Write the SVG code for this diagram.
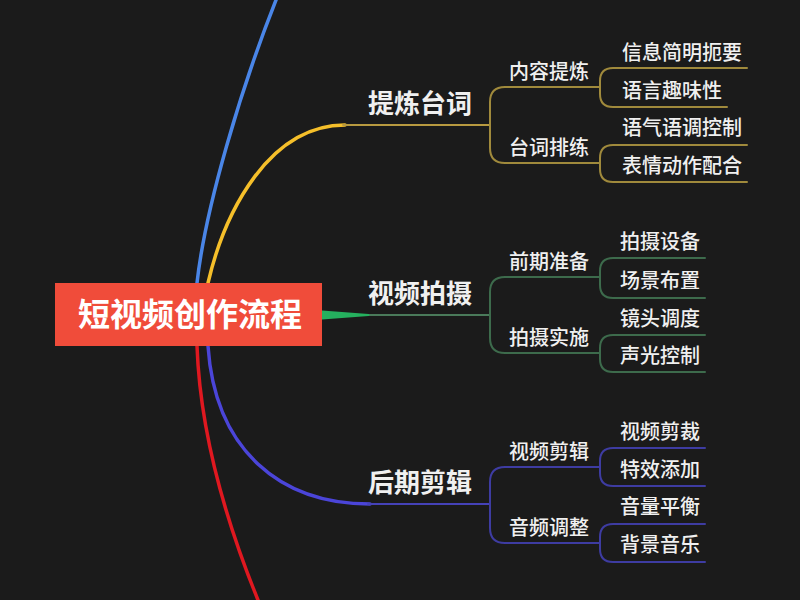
<svg xmlns="http://www.w3.org/2000/svg" width="800" height="600" viewBox="0 0 800 600">
<style>
  .t { font-family: "Noto Sans CJK SC", "Noto Sans", "Liberation Sans", sans-serif; fill: #f0f0f0; }
  .leaf { font-size: 20px; font-weight: 500; }
  .sub { font-size: 20px; font-weight: 500; }
  .main { font-size: 26px; font-weight: 700; }
  .root { font-size: 32px; font-weight: 700; fill: #ffffff; }
  .c { fill: none; stroke-linecap: round; }
  .y1 { stroke: #f5bf2a; stroke-width: 3.5; }
  .y2 { stroke: #b89a40; stroke-width: 2; }
  .y3 { stroke: #a08a3c; stroke-width: 2; }
  .g2 { stroke: #4a7a5a; stroke-width: 2; }
  .g3 { stroke: #3d6b4c; stroke-width: 2; }
  .i1 { stroke: #4b45d9; stroke-width: 3.5; }
  .i2 { stroke: #4542b8; stroke-width: 2; }
  .i3 { stroke: #3e3ca2; stroke-width: 2; }
</style>
<rect x="0" y="0" width="800" height="600" fill="#1b1b1b"/>
<g id="connectors">
  <!-- outer decorative branches -->
  <path class="c" d="M197,283 C205,210 240,90 278,-5" stroke="#4a86e8" stroke-width="3.5"/>
  <path class="c" d="M197,346 C200,430 225,520 260,605" stroke="#e01820" stroke-width="3.5"/>
  <!-- yellow main -->
  <path class="c y1" d="M208,283 C225,210 270,125 345,125"/>
  <path class="c y2" d="M343,125 H490"/>
  <!-- green main -->
  <path d="M322,310.5 L322,319.5 L372,315.8 L372,314.2 Z" fill="#25b05e"/>
  <path class="c g2" d="M370,315 H490"/>
  <!-- indigo main -->
  <path class="c i1" d="M208,346 C215,450 280,504 370,504"/>
  <path class="c i2" d="M368,504 H490"/>

  <!-- yellow brackets -->
  <path class="c y3" d="M600,87 H505 Q490,87 490,102 V148 Q490,163 505,163 H600"/>
  <path class="c y3" d="M747,68 H613 Q600,68 600,81 V94 Q600,107 613,107 H727"/>
  <path class="c y3" d="M747,145 H613 Q600,145 600,158 V169 Q600,182 613,182 H747"/>
  <!-- green brackets -->
  <path class="c g3" d="M600,277 H505 Q490,277 490,292 V338 Q490,353 505,353 H600"/>
  <path class="c g3" d="M705,258 H613 Q600,258 600,271 V285 Q600,298 613,298 H705"/>
  <path class="c g3" d="M705,335 H613 Q600,335 600,348 V359 Q600,372 613,372 H705"/>
  <!-- indigo brackets -->
  <path class="c i3" d="M600,467 H505 Q490,467 490,482 V528 Q490,543 505,543 H600"/>
  <path class="c i3" d="M705,448 H613 Q600,448 600,461 V473 Q600,486 613,486 H705"/>
  <path class="c i3" d="M705,524 H613 Q600,524 600,537 V549 Q600,562 613,562 H705"/>
</g>

<g id="root">
  <rect x="55" y="283" width="267" height="63" fill="#f04c3a"/>
  <text class="t root" x="190" y="326" text-anchor="middle">短视频创作流程</text>
</g>

<g id="n-tilian"><text class="t main" x="368" y="113">提炼台词</text></g>
<g id="n-paishe"><text class="t main" x="368" y="303">视频拍摄</text></g>
<g id="n-houqi"><text class="t main" x="368" y="492">后期剪辑</text></g>

<g id="n-neirong"><text class="t sub" x="509" y="79">内容提炼</text></g>
<g id="n-taici"><text class="t sub" x="509" y="155">台词排练</text></g>
<g id="n-qianqi"><text class="t sub" x="509" y="269">前期准备</text></g>
<g id="n-shishi"><text class="t sub" x="509" y="345">拍摄实施</text></g>
<g id="n-jianji"><text class="t sub" x="509" y="459">视频剪辑</text></g>
<g id="n-yinpin"><text class="t sub" x="509" y="535">音频调整</text></g>

<g id="l1"><text class="t leaf" x="622" y="60">信息简明扼要</text></g>
<g id="l2"><text class="t leaf" x="622" y="98">语言趣味性</text></g>
<g id="l3"><text class="t leaf" x="622" y="135">语气语调控制</text></g>
<g id="l4"><text class="t leaf" x="622" y="173">表情动作配合</text></g>
<g id="l5"><text class="t leaf" x="620" y="249">拍摄设备</text></g>
<g id="l6"><text class="t leaf" x="620" y="288">场景布置</text></g>
<g id="l7"><text class="t leaf" x="620" y="326">镜头调度</text></g>
<g id="l8"><text class="t leaf" x="620" y="363">声光控制</text></g>
<g id="l9"><text class="t leaf" x="620" y="439">视频剪裁</text></g>
<g id="l10"><text class="t leaf" x="620" y="477">特效添加</text></g>
<g id="l11"><text class="t leaf" x="620" y="514">音量平衡</text></g>
<g id="l12"><text class="t leaf" x="620" y="552">背景音乐</text></g>
</svg>
